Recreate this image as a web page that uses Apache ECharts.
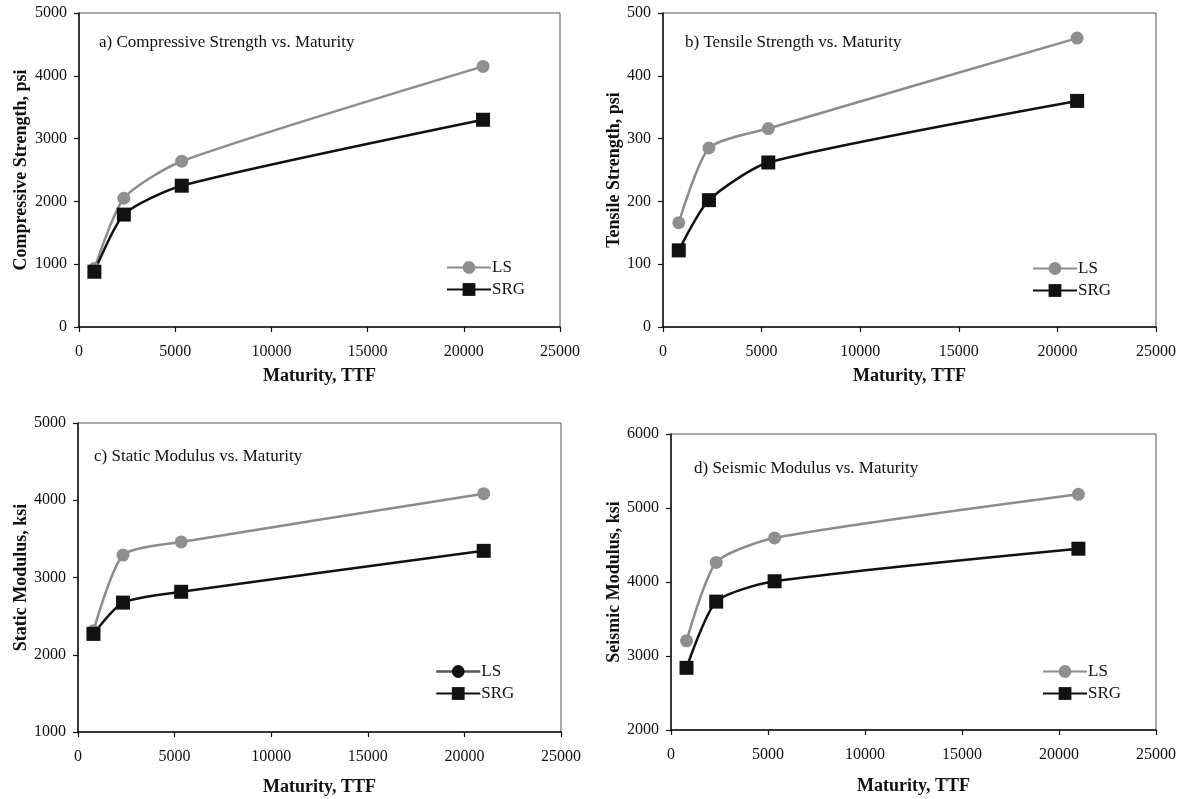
<!DOCTYPE html>
<html lang="en">

<head>
  <meta charset="UTF-8">
  <title>Strength and Modulus vs. Maturity</title>
  <style>
    html, body { margin: 0; padding: 0; background: #fff; }
    #chart { width: 1181px; height: 799px; }
  </style>
</head>

<body>
  <div id="chart"></div>
  <script src="https://cdn.jsdelivr.net/npm/echarts@6/dist/echarts.min.js"></script>
  <script>
    // maturity (TTF) at each test age
    var maturity = [800, 2330, 5340, 21000];

    // a) compressive strength, psi
    var compLS = [930, 2050, 2640, 4150];
    var compSRG = [880, 1790, 2250, 3300];
    // b) tensile strength, psi
    var tensLS = [166, 285, 316, 460];
    var tensSRG = [122, 202, 262, 360];
    // c) static modulus, ksi
    var statLS = [2310, 3290, 3460, 4085];
    var statSRG = [2270, 2675, 2815, 3345];
    // d) seismic modulus, ksi
    var seisLS = [3205, 4265, 4595, 5185];
    var seisSRG = [2840, 3735, 4010, 4450];

    var font = 'Liberation Serif';
    var grayLine = '#8c8c8c';
    var black = '#111';

    function pairs(ys) {
      return maturity.map(function (x, i) { return [x, ys[i]]; });
    }
    // plain numbers, no thousands separator
    function plain(v) { return String(v); }

    // panel layout
    var panels = [
      { title: 'a) Compressive Strength vs. Maturity', yName: 'Compressive Strength, psi',
        ls: compLS, srg: compSRG, min: 0, max: 5000, step: 1000,
        grid: { left: 79, top: 13, width: 481, height: 314 }, yGap: 49, xGap: 40,
        titlePos: [94, 29], legendPos: [441, 254] },
      { title: 'b) Tensile Strength vs. Maturity', yName: 'Tensile Strength, psi',
        ls: tensLS, srg: tensSRG, min: 0, max: 500, step: 100,
        grid: { left: 663, top: 13, width: 493, height: 314 }, yGap: 38, xGap: 40,
        titlePos: [680, 29], legendPos: [1027, 255] },
      { title: 'c) Static Modulus vs. Maturity', yName: 'Static Modulus, ksi',
        ls: statLS, srg: statSRG, min: 1000, max: 5000, step: 1000,
        grid: { left: 78, top: 423, width: 483, height: 309 }, yGap: 48, xGap: 46,
        titlePos: [89, 443], legendPos: [430, 658], darkLegend: true },
      { title: 'd) Seismic Modulus vs. Maturity', yName: 'Seismic Modulus, ksi',
        ls: seisLS, srg: seisSRG, min: 2000, max: 6000, step: 1000,
        grid: { left: 671, top: 434, width: 485, height: 296 }, yGap: 46, xGap: 47,
        titlePos: [689, 455], legendPos: [1037, 658] }
    ];

    var option = {
      backgroundColor: '#fff',
      animation: false,
      title: [], grid: [], xAxis: [], yAxis: [], legend: [], series: []
    };

    panels.forEach(function (p, i) {
      option.title.push({
        text: p.title, left: p.titlePos[0], top: p.titlePos[1],
        textStyle: { fontFamily: font, fontSize: 17, fontWeight: 'normal', color: black }
      });
      option.grid.push(Object.assign({
        show: true, borderColor: '#555', borderWidth: 1, backgroundColor: 'transparent'
      }, p.grid));
      option.xAxis.push({
        type: 'value', gridIndex: i, min: 0, max: 25000, interval: 5000,
        name: 'Maturity, TTF', nameLocation: 'middle', nameGap: p.xGap,
        nameTextStyle: { fontFamily: font, fontSize: 18, fontWeight: 'bold', color: black },
        axisLine: { onZero: false, lineStyle: { color: black, width: 1.5 } },
        axisTick: { show: true, inside: false, length: 5, lineStyle: { color: black, width: 1.2 } },
        axisLabel: { margin: 17, fontFamily: font, fontSize: 16, color: black, formatter: plain },
        splitLine: { show: false }
      });
      option.yAxis.push({
        type: 'value', gridIndex: i, min: p.min, max: p.max, interval: p.step,
        name: p.yName, nameLocation: 'middle', nameGap: p.yGap, nameRotate: 90,
        nameTextStyle: { fontFamily: font, fontSize: 18, fontWeight: 'bold', color: black },
        axisLine: { show: true, onZero: false, lineStyle: { color: black, width: 1.5 } },
        axisTick: { show: true, inside: false, length: 5, lineStyle: { color: black, width: 1.2 } },
        axisLabel: { margin: 12, fontFamily: font, fontSize: 16, color: black, formatter: plain },
        splitLine: { show: false }
      });
      option.series.push({
        name: 'LS', type: 'line', xAxisIndex: i, yAxisIndex: i,
        data: pairs(p.ls), smooth: 0.22,
        symbol: 'circle', symbolSize: 13,
        lineStyle: { color: grayLine, width: 2.5 },
        itemStyle: { color: '#8f8f8f' }
      });
      option.series.push({
        name: 'SRG', type: 'line', xAxisIndex: i, yAxisIndex: i,
        data: pairs(p.srg), smooth: 0.22,
        symbol: 'rect', symbolSize: 14,
        lineStyle: { color: black, width: 2.5 },
        itemStyle: { color: black }
      });
      var lsItem = { name: 'LS' };
      if (p.darkLegend) {
        lsItem.itemStyle = { color: black };
        lsItem.lineStyle = { color: '#555', width: 2.5 };
      }
      option.legend.push({
        orient: 'vertical', left: p.legendPos[0], top: p.legendPos[1],
        itemWidth: 44, itemHeight: 16, itemGap: 5,
        selectedMode: false,
        textStyle: { fontFamily: font, fontSize: 17, color: black, padding: [0, 0, 0, -4] },
        data: [lsItem, { name: 'SRG' }]
      });
    });

    var myChart = echarts.init(document.getElementById('chart'));
    myChart.setOption(option);
  </script>
</body>

</html>
